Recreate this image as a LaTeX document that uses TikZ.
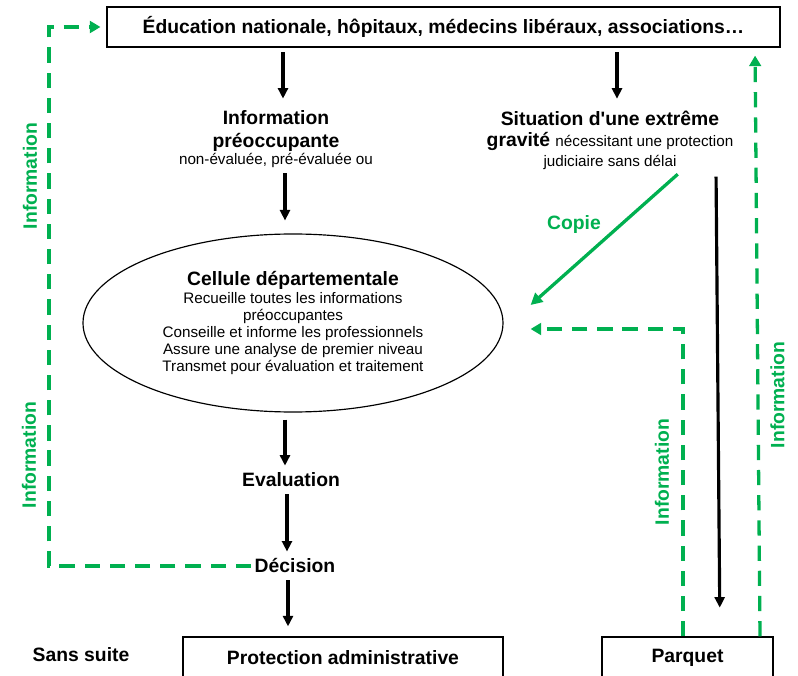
\documentclass[tikz,border=0pt]{standalone}
\usepackage{fontspec}
\setmainfont{Liberation Sans}
\usetikzlibrary{arrows.meta,shapes.geometric}

\definecolor{vert}{RGB}{0,176,80}
\newcommand{\gras}{\bfseries\fontsize{16.5}{19.5}\selectfont}
\newcommand{\fin}{\normalfont\fontsize{13}{14.6}\selectfont}
\newcommand{\apos}{{\addfontfeature{Ligatures=TeXOff}'}}

\tikzset{
  boite/.style={draw, line width=1.1pt, inner sep=0pt, font=\gras},
  titre/.style={inner sep=0pt, align=center, font=\gras},
  cellule/.style={draw, ellipse, line width=1pt, inner sep=0pt, align=center, font=\fin},
  fleche/.style={line width=2.7pt, -{Triangle[length=9pt,width=8.5pt]}},
  info/.style={vert, line width=2.8pt, dash pattern=on 13pt off 8.5pt, -{Triangle[length=9pt,width=10pt]}},
  copie/.style={vert, line width=2.8pt, -{Triangle[length=10pt,width=10pt]}},
  vtexte/.style={vert, rotate=90, inner sep=0pt, font=\gras},
}

\begin{document}
\begin{tikzpicture}[x=0.03cm, y=-0.03cm]
  \useasboundingbox (0,0) rectangle (798,676);
  %% Draw the boxes
  \node[boite, minimum width=20.19cm, minimum height=1.2cm] (src) at (443.5,27) {Éducation nationale, hôpitaux, médecins libéraux, associations…};
  \node[boite, minimum width=9.6cm, minimum height=1.23cm] (prot) at (343,657.5) {Protection administrative};
  \node[boite, minimum width=5.13cm, minimum height=1.23cm] (parq) at (687.5,657.5) {Parquet};
  \node[titre] (sans) at (81,655) {Sans suite};
  %% Draw the steps
  \node[titre] (ip) at (276,131) {Information\\préoccupante};
  \node[inner sep=0pt, font=\fin] (ipsub) at (276,160) {non-évaluée, pré-évaluée ou};
  \node[titre] (sit) at (610,140) {Situation d\apos une extrême\\[-1pt]gravité {\fin nécessitant une protection}\\[-3pt]{\fin judiciaire sans délai}};
  \node[cellule, minimum width=12.6cm, minimum height=5.34cm] (cell) at (293,323) {{\gras Cellule départementale}\\[1pt]Recueille toutes les informations\\préoccupantes\\Conseille et informe les professionnels\\Assure une analyse de premier niveau\\Transmet pour évaluation et traitement};
  \node[titre] (ev) at (291,480) {Evaluation};
  \node[titre] (dec) at (295,566) {Décision};
  %% Draw the labels
  \node[vtexte] (l1) at (30,176) {Information};
  \node[vtexte] (l2) at (29,455) {Information};
  \node[vtexte] (l3) at (662,472) {Information};
  \node[vtexte] (l4) at (777.5,395) {Information};
  \node[titre, vert] (cp) at (574,225) {Copie};
  \coordinate (coin) at (49,566);
  %% Draw the edges
  \begin{scope}[every path/.style={fleche}]
    \draw[shorten <=4pt, shorten >=10pt] ([xshift=0.21cm]ip.north |- src.south) -- ([xshift=0.21cm]ip.north);
    \draw[shorten <=4pt, shorten >=10pt] ([xshift=0.21cm]sit.north |- src.south) -- ([xshift=0.21cm]sit.north);
    \draw[shorten <=5pt, shorten >=11pt] ([xshift=0.27cm]ipsub.south) -- ([xshift=0.27cm]ipsub.south |- cell.north);
    \draw[shorten <=6pt, shorten >=6pt] ([xshift=-0.24cm]cell.south) -- ([xshift=-0.24cm]cell.south |- ev.north);
    \draw[shorten <=6pt, shorten >=6pt] ([xshift=-0.12cm]ev.south) -- ([xshift=-0.12cm]ev.south |- dec.north);
    \draw[shorten <=6pt, shorten >=8.5pt] ([xshift=-0.21cm]dec.south) -- ([xshift=-0.21cm]dec.south |- prot.north);
    \draw[shorten <=6pt, shorten >=24.5pt] ([xshift=3.18cm]sit.south) -- ([xshift=0.975cm]parq.north);
  \end{scope}
  \draw[copie, shorten <=6pt] ([xshift=2.19cm]sit.south) -- ([xshift=0.81cm,yshift=0.54cm]cell.east);
  \draw[info, shorten <=3pt, shorten >=5pt] (dec.west) -- (coin) |- (src.west);
  \draw[info] ([xshift=-0.135cm]parq.north) |- ([xshift=0.81cm,yshift=-0.18cm]cell.east);
  \draw[info, shorten >=6.8pt] ([xshift=2.175cm]parq.north) -- ([xshift=2.025cm]parq.north |- src.south);
\end{tikzpicture}
\end{document}
